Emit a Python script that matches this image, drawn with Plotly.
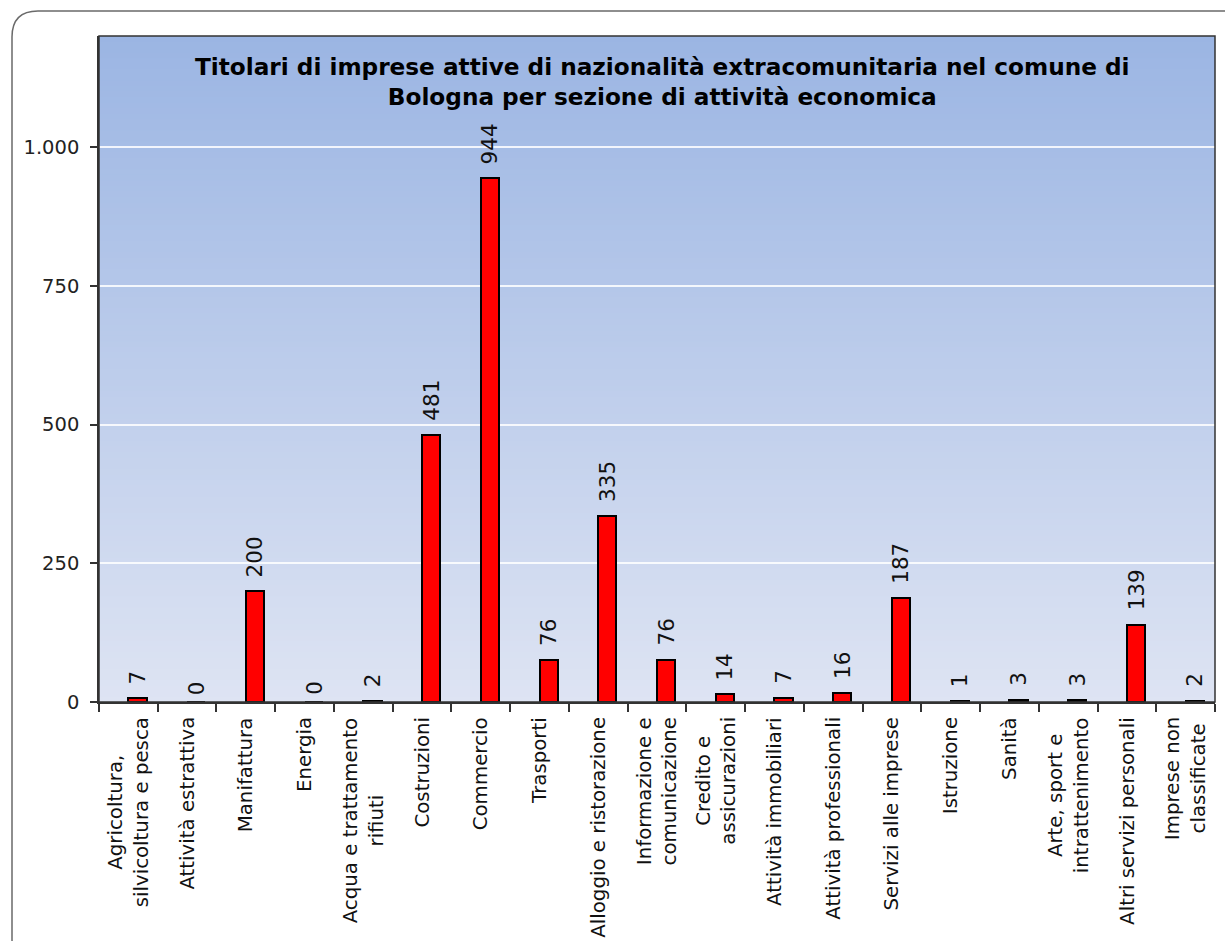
import plotly.graph_objects as go

# Sezioni di attività economica (testo mostrato sotto l'asse, con a capo)
categorie = [
    "Agricoltura,<br>silvicoltura e pesca",
    "Attività estrattiva",
    "Manifattura",
    "Energia",
    "Acqua e trattamento<br>rifiuti",
    "Costruzioni",
    "Commercio",
    "Trasporti",
    "Alloggio e ristorazione",
    "Informazione e<br>comunicazione",
    "Credito e<br>assicurazioni",
    "Attività immobiliari",
    "Attività professionali",
    "Servizi alle imprese",
    "Istruzione",
    "Sanità",
    "Arte, sport e<br>intrattenimento",
    "Altri servizi personali",
    "Imprese non<br>classificate",
]

# Numero di titolari per sezione
titolari = [7, 0, 200, 0, 2, 481, 944, 76, 335, 76, 14, 7, 16, 187, 1, 3, 3, 139, 2]

# Tacche dell'asse verticale
y_tick_vals = [0, 250, 500, 750, 1000]

titolo = ("Titolari di imprese attive di nazionalità extracomunitaria nel comune di<br>"
          "Bologna per sezione di attività economica")

FONT = "DejaVu Sans, Verdana, sans-serif"
BAR_W = 0.31
idx = list(range(len(categorie)))

fig = go.Figure()
fig.add_trace(go.Bar(
    x=idx,
    y=titolari,
    width=BAR_W,
    offset=0,
    marker=dict(color="#FF0000", line=dict(color="#000000", width=2)),
    hoverinfo="x+y",
))

# Etichette dei valori sopra le barre
annotations = []
for i, v in zip(idx, titolari):
    annotations.append(dict(
        x=i + BAR_W / 2, y=v, xref="x", yref="y",
        text=str(v), showarrow=False, textangle=-90,
        xanchor="center", yanchor="bottom", yshift=12 if v > 0 else 5,
        font=dict(family=FONT, size=21.5, color="#111111"),
    ))

# Etichette delle categorie, ruotate e centrate riga per riga
for i, c in zip(idx, categorie):
    annotations.append(dict(
        x=i, y=0, xref="x", yref="y",
        text=c, showarrow=False, textangle=-90, align="center",
        xanchor="center", yanchor="top", yshift=-13,
        font=dict(family=FONT, size=19.8, color="#111111"),
    ))

# Titolo
annotations.append(dict(
    x=0.505, y=1, xref="paper", yref="paper",
    text="<b>" + titolo + "</b>", showarrow=False, align="center",
    xanchor="center", yanchor="top", yshift=-15,
    font=dict(family=FONT, size=23.2, color="#000000"),
))

# Sfondo sfumato dell'area del grafico (dall'azzurro in alto al chiaro in basso)
shapes = []
top_rgb = (155, 181, 227)
bot_rgb = (222, 228, 243)
n_strips = 120
for k in range(n_strips):
    t = (k + 0.5) / n_strips
    r = round(top_rgb[0] + (bot_rgb[0] - top_rgb[0]) * t)
    g = round(top_rgb[1] + (bot_rgb[1] - top_rgb[1]) * t)
    b = round(top_rgb[2] + (bot_rgb[2] - top_rgb[2]) * t)
    y1 = 1 - k / n_strips
    y0 = 1 - (k + 1) / n_strips - 0.002
    shapes.append(dict(
        type="rect", xref="paper", yref="paper",
        x0=0, x1=1, y0=max(y0, 0), y1=y1,
        fillcolor=f"rgb({r},{g},{b})", line=dict(width=0), layer="below",
    ))

# Bordo dell'area del grafico
shapes.append(dict(
    type="rect", xref="paper", yref="paper", x0=0, x1=1, y0=0, y1=1,
    line=dict(color="#333333", width=1.5), fillcolor="rgba(0,0,0,0)", layer="above",
))

# Cornice arrotondata esterna
PL, PT, PW, PH = 99, 36, 1116, 666
def px(xp):
    return (xp - PL) / PW
def py(yp):
    return (PT + PH - yp) / PH
left, right, top, bottom = px(12), px(1240), py(11), py(965)
rx, ry = 26 / PW, 26 / PH
frame = (f"M {right},{top} L {left + rx},{top} Q {left},{top} {left},{top - ry} "
         f"L {left},{bottom + ry} Q {left},{bottom} {left + rx},{bottom} L {right},{bottom}")
shapes.append(dict(
    type="path", xref="paper", yref="paper", path=frame,
    line=dict(color="#6A6A6A", width=1.5), layer="below",
))

fig.update_layout(
    width=1225, height=941,
    margin=dict(l=PL, r=1225 - PL - PW, t=PT, b=941 - PT - PH),
    paper_bgcolor="#FFFFFF",
    plot_bgcolor="rgba(0,0,0,0)",
    separators=",.",
    showlegend=False,
    bargap=0,
    shapes=shapes,
    annotations=annotations,
    font=dict(family=FONT, color="#222222"),
)
fig.update_xaxes(
    type="linear",
    range=[-0.5, len(categorie) - 0.5],
    tickmode="array",
    tickvals=[i - 0.5 for i in range(len(categorie) + 1)],
    showticklabels=False,
    ticks="outside", ticklen=8, tickwidth=1.5, tickcolor="#333333",
    showline=True, linecolor="#333333", linewidth=1.5,
    showgrid=False, zeroline=False,
    fixedrange=True,
)
fig.update_yaxes(
    range=[0, 1200],
    tickmode="array",
    tickvals=y_tick_vals,
    separatethousands=True,
    tickfont=dict(family=FONT, size=19.5, color="#222222"),
    ticks="outside", ticklen=7, tickwidth=1.5, tickcolor="#333333",
    ticklabelstandoff=7,
    showline=True, linecolor="#333333", linewidth=1.5,
    showgrid=True, gridcolor="rgba(255,255,255,0.85)", gridwidth=1.5,
    zeroline=False,
    fixedrange=True,
)

fig.write_html("out.html")
